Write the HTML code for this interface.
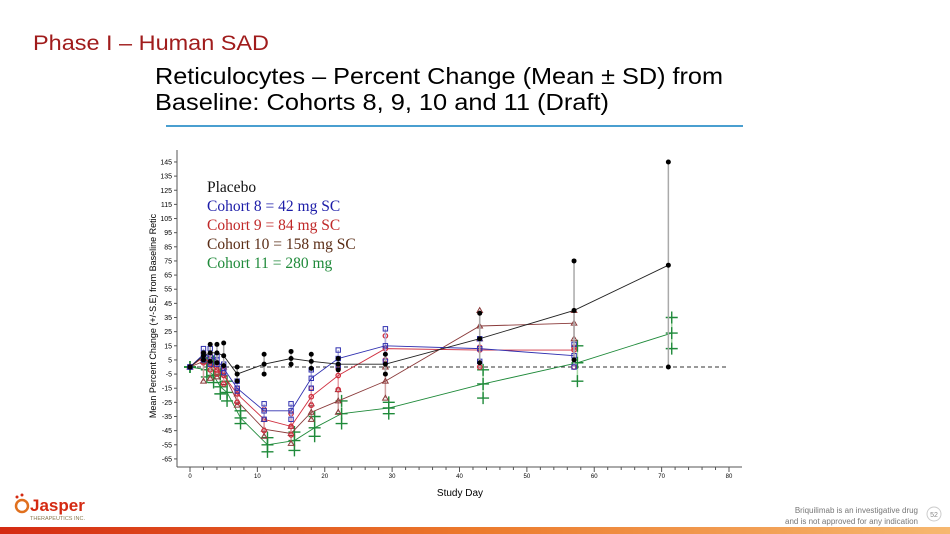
<!DOCTYPE html>
<html><head><meta charset="utf-8"><style>
html,body{margin:0;padding:0;background:#fff;}
svg{display:block;font-family:"Liberation Sans",sans-serif;}
</style></head><body>
<svg id="s" width="950" height="534" viewBox="0 0 950 534" xmlns="http://www.w3.org/2000/svg">
<defs><linearGradient id="g" x1="0" x2="1"><stop offset="0" stop-color="#d42a12"/><stop offset="0.5" stop-color="#ec7a2c"/><stop offset="1" stop-color="#f6b870"/></linearGradient></defs>
<text x="33" y="50" font-size="21" fill="#a01c1c" textLength="236" lengthAdjust="spacingAndGlyphs">Phase I – Human SAD</text>
<text x="155" y="84" font-size="23" fill="#000" textLength="568" lengthAdjust="spacingAndGlyphs">Reticulocytes – Percent Change (Mean ± SD) from</text>
<text x="155" y="110" font-size="23" fill="#000" textLength="454" lengthAdjust="spacingAndGlyphs">Baseline: Cohorts 8, 9, 10 and 11 (Draft)</text>
<line x1="166" y1="126" x2="743" y2="126" stroke="#4a9fd0" stroke-width="2"/>
<g id="plot"></g>
<g font-family="Liberation Serif,serif" font-size="15.5">
<text x="207" y="192" fill="#111">Placebo</text>
<text x="207" y="211" fill="#1c1ca8">Cohort 8 = 42 mg SC</text>
<text x="207" y="230" fill="#c02828">Cohort 9 = 84 mg SC</text>
<text x="207" y="249" fill="#5a2d16">Cohort 10 = 158 mg SC</text>
<text x="207" y="268" fill="#1f8a3a">Cohort 11 = 280 mg</text>
</g>
<text transform="translate(156,316) rotate(-90)" text-anchor="middle" font-size="9" fill="#000">Mean Percent Change (+/-S.E) from Baseline Retic</text>
<text x="460" y="496" text-anchor="middle" font-size="10" fill="#000">Study Day</text>
<g>
<circle cx="22" cy="506" r="6" fill="none" stroke="#e0701e" stroke-width="2.5"/>
<circle cx="17" cy="497" r="1.5" fill="#d42a12"/><circle cx="22" cy="495" r="1.5" fill="#d42a12"/>
<text x="30" y="511" font-size="17" fill="#d42a12" font-weight="bold">Jasper</text>
<text x="30" y="520" font-size="5.5" fill="#8a7a50">THERAPEUTICS INC.</text>
</g>
<text x="918" y="513" text-anchor="end" font-size="8" fill="#777">Briquilimab is an investigative drug</text>
<text x="918" y="524" text-anchor="end" font-size="8" fill="#777">and is not approved for any indication</text>
<circle cx="934" cy="514" r="7" fill="none" stroke="#ccc"/>
<text x="934" y="517" text-anchor="middle" font-size="7" fill="#888">52</text>
<rect x="0" y="527" width="950" height="7" fill="url(#g)"/>
</svg>
<script>
const yTicks=[-65,-55,-45,-35,-25,-15,-5,5,15,25,35,45,55,65,75,85,95,105,115,125,135,145];
const xTicks=[0,10,20,30,40,50,60,70,80];
const placeboDays=[0,2,3,4,5,7,11,15,18,22,29,43,57,71];
const placeboMean=[0,8,10,10,8,-5,2,6,4,2,2,20,40,72];
const placeboHi=[0,10,16,16,17,0,9,11,9,6,9,38,75,145];
const placeboLo=[0,5,4,3,1,-10,-5,2,-1,-2,-5,3,5,0];
const c8Days=[0,2,3,4,5,7,11,15,18,22,29,43,57];
const c8Mean=[0,9,7,5,-1,-15,-31,-31,-8,6,15,13,8];
const c8Hi=[0,13,13,8,2,-10,-26,-26,-2,12,27,20,16];
const c8Lo=[0,5,2,2,-4,-17,-37,-37,-15,1,4,4,0];
const c9Days=[0,2,3,4,5,7,11,15,18,22,29,43,57];
const c9Mean=[0,7,3,-2,-6,-19,-37,-42,-21,-6,13,12,12];
const c9Hi=[0,10,8,3,-2,-15,-30,-33,-15,-1,22,14,14];
const c9Lo=[0,3,-2,-5,-12,-25,-45,-48,-27,-16,5,0,0];
const c10Days=[0,2,3,4,5,7,11,15,18,22,29,43,57];
const c10Mean=[0,4,2,-2,-5,-24,-44,-47,-32,-24,-10,29,31];
const c10Hi=[0,6,5,3,0,-19,-37,-42,-26,-16,0,40,40];
const c10Lo=[0,-10,-8,-7,-11,-27,-49,-54,-37,-32,-22,20,20];
const c11Days=[0,2.5,3.5,4.5,5.5,7.5,11.5,15.5,18.5,22.5,29.5,43.5,57.5,71.5];
const c11Mean=[0,-2,-6,-14,-18,-36,-55,-52,-43,-33,-29,-12,3,24];
const c11Hi=[0,3,4,-5,-10,-31,-50,-46,-35,-24,-25,-2,15,35];
const c11Lo=[0,-7,-11,-19,-24,-40,-60,-59,-49,-40,-33,-22,-10,13];

const NS='http://www.w3.org/2000/svg';
const plot=document.getElementById('plot');
const X=d=>190+d*(539/80);
const Y=v=>367-v*1.414;
function mk(tag,at,parent){const e=document.createElementNS(NS,tag);for(const k in at)e.setAttribute(k,at[k]);(parent||plot).appendChild(e);return e;}

let ax=mk('line',{x1:177,y1:150,x2:177,y2:467,stroke:'#555','stroke-width':1});


let bx=mk('line',{x1:177,y1:467,x2:742,y2:467,stroke:'#555','stroke-width':1});


yTicks.forEach(v=>{
  mk('line',{x1:174,y1:Y(v),x2:177,y2:Y(v),stroke:'#555'});
  const t=mk('text',{x:172,y:Y(v)+2.5,'text-anchor':'end','font-size':7,fill:'#000'});
  t.textContent=v;
  
  
});
for(let d=0;d<=80;d+=2){mk('line',{x1:X(d),y1:467,x2:X(d),y2:d%10?470:472,stroke:'#555'});}
xTicks.forEach(v=>{
  const t=mk('text',{x:X(v),y:478,'text-anchor':'middle','font-size':6,fill:'#000'});
  t.textContent=v;
  
  
});
let ref=mk('line',{x1:X(0),y1:Y(0),x2:X(80),y2:Y(0),stroke:'#333','stroke-dasharray':'4,3'});



function marker(g,type,x,y,col){
  if(type==='dot')mk('circle',{cx:x,cy:y,r:2.5,fill:'#000'},g);
  else if(type==='sq')mk('rect',{x:x-2.2,y:y-2.2,width:4.4,height:4.4,fill:'none',stroke:col},g);
  else if(type==='star')mk('circle',{cx:x,cy:y,r:2.2,fill:'none',stroke:col,'stroke-width':1.3},g);
  else if(type==='tri')mk('path',{d:`M${x},${y-2.8}L${x+2.8},${y+2}L${x-2.8},${y+2}Z`,fill:'none',stroke:col},g);
  else if(type==='plus'){mk('path',{d:`M${x-6},${y}H${x+6}M${x},${y-6}V${y+6}`,stroke:col,'stroke-width':1.4},g);}
}
function series(name,days,mean,hi,lo,col,bar,type){
  const g=mk('g',{});
  
  
  days.forEach((d,i)=>{mk('line',{x1:X(d),y1:Y(lo[i]),x2:X(d),y2:Y(hi[i]),stroke:bar,'stroke-width':1.5},g);});
  mk('polyline',{points:days.map((d,i)=>X(d)+','+Y(mean[i])).join(' '),fill:'none',stroke:col,'stroke-width':0.9},g);
  days.forEach((d,i)=>{[mean[i],hi[i],lo[i]].forEach(v=>marker(g,type,X(d),Y(v),col));});
}
series('series-cohort-11',c11Days,c11Mean,c11Hi,c11Lo,'#1f8a3a','#a8d8a8','plus');
series('series-cohort-10',c10Days,c10Mean,c10Hi,c10Lo,'#8a3a3a','#d0a0a0','tri');
series('series-cohort-9',c9Days,c9Mean,c9Hi,c9Lo,'#d03040','#e8a0a8','star');
series('series-cohort-8',c8Days,c8Mean,c8Hi,c8Lo,'#3030b0','#b0b0e0','sq');
series('series-placebo',placeboDays,placeboMean,placeboHi,placeboLo,'#222','#aaa','dot');
</script>
</body></html>
